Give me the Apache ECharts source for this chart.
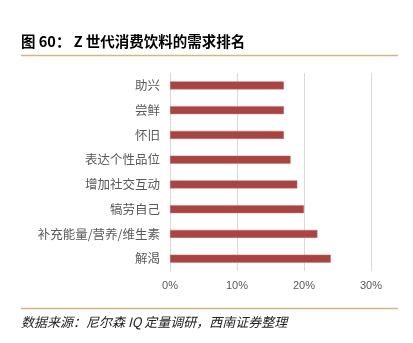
<!DOCTYPE html>
<html>
<head>
<meta charset="utf-8">
<script src="https://cdn.jsdelivr.net/npm/echarts@6/dist/echarts.min.js"></script>
<style>
  html, body { margin: 0; padding: 0; background: #fff; }
  #chart { width: 413px; height: 343px; }
</style>
</head>
<body>
<div id="chart"></div>
<script>
// Demand ranking categories (top to bottom) and share of respondents (%)
const categories = ['助兴', '尝鲜', '怀旧', '表达个性品位', '增加社交互动', '犒劳自己', '补充能量/营养/维生素', '解渴'];
const values = [17, 17, 17, 18, 19, 20, 22, 24];
const xTicks = [0, 10, 20, 30];

const titleText = '图 60： Z 世代消费饮料的需求排名';
const sourceText = '数据来源：尼尔森 IQ 定量调研，西南证券整理';

const chart = echarts.init(document.getElementById('chart'), null, { renderer: 'canvas' });

chart.setOption({
  animation: false,
  backgroundColor: '#ffffff',
  grid: { left: 170, right: 42, top: 73, bottom: 72, containLabel: false },
  xAxis: {
    type: 'value',
    min: xTicks[0],
    max: xTicks[xTicks.length - 1],
    interval: 10,
    axisLine: { show: false },
    axisTick: { show: false },
    axisLabel: {
      formatter: v => v + '%',
      color: '#595959',
      fontSize: 11,
      fontFamily: 'Liberation Sans, Arial, sans-serif',
      margin: 9
    },
    splitLine: { show: true, lineStyle: { color: '#d9d9d9', width: 1 } }
  },
  yAxis: {
    type: 'category',
    inverse: true,
    data: categories,
    axisLine: { show: true, lineStyle: { color: '#d9d9d9', width: 1 } },
    axisTick: { show: false },
    axisLabel: {
      color: '#595959',
      fontSize: 12.5,
      fontFamily: 'Noto Sans CJK SC, sans-serif',
      margin: 10
    }
  },
  series: [{
    type: 'bar',
    data: values,
    barWidth: 8,
    itemStyle: { color: '#a84442', borderColor: '#c07270', borderWidth: 0.5 }
  }],
  graphic: [
    {
      type: 'text', left: 21, top: 34,
      style: { text: titleText, fill: '#000', font: 'bold 14.5px "Noto Sans CJK SC", sans-serif' }
    },
    {
      type: 'line', shape: { x1: 21, y1: 55.5, x2: 398, y2: 55.5 },
      style: { stroke: '#d8b582', lineWidth: 1.5 }
    },
    {
      type: 'line', shape: { x1: 21, y1: 308.5, x2: 398, y2: 308.5 },
      style: { stroke: '#d8b582', lineWidth: 1.5 }
    },
    {
      type: 'text', left: 21, top: 316,
      style: { text: sourceText, fill: '#222', font: 'italic 13px "Noto Sans CJK SC", sans-serif' }
    }
  ]
});
</script>
</body>
</html>
